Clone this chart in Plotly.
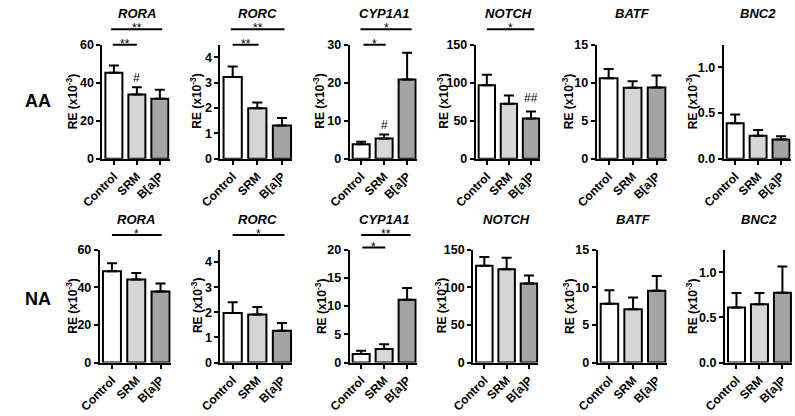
import plotly.graph_objects as go

W, H = 795, 416
FONT = "Arial, Liberation Sans, sans-serif"

groups = ["Control", "SRM", "B[a]P"]
genes = ["RORA", "RORC", "CYP1A1", "NOTCH", "BATF", "BNC2"]
row_names = ["AA", "NA"]

# ---- AA row: means and SEM (RE x10^-3) ----
aa_rora = [45.3, 33.8, 31.5]
aa_rora_sem = [3.8, 3.8, 4.8]
aa_rorc = [3.22, 1.99, 1.31]
aa_rorc_sem = [0.42, 0.23, 0.30]
aa_cyp1a1 = [3.83, 5.3, 20.85]
aa_cyp1a1_sem = [0.65, 1.1, 7.05]
aa_notch = [96.5, 72.4, 53.0]
aa_notch_sem = [14.0, 10.6, 9.0]
aa_batf = [10.6, 9.33, 9.37]
aa_batf_sem = [1.2, 0.87, 1.58]
aa_bnc2 = [0.39, 0.252, 0.21]
aa_bnc2_sem = [0.096, 0.064, 0.036]

# ---- NA row ----
na_rora = [48.5, 44.1, 37.7]
na_rora_sem = [4.2, 3.4, 4.3]
na_rorc = [1.97, 1.91, 1.27]
na_rorc_sem = [0.43, 0.30, 0.31]
na_cyp1a1 = [1.54, 2.4, 11.1]
na_cyp1a1_sem = [0.56, 0.86, 2.1]
na_notch = [128.6, 124.0, 105.0]
na_notch_sem = [11.4, 15.0, 10.7]
na_batf = [7.8, 7.08, 9.53]
na_batf_sem = [1.8, 1.56, 1.97]
na_bnc2 = [0.61, 0.645, 0.772]
na_bnc2_sem = [0.16, 0.125, 0.29]

aa_means = [aa_rora, aa_rorc, aa_cyp1a1, aa_notch, aa_batf, aa_bnc2]
aa_sems = [aa_rora_sem, aa_rorc_sem, aa_cyp1a1_sem, aa_notch_sem, aa_batf_sem, aa_bnc2_sem]
na_means = [na_rora, na_rorc, na_cyp1a1, na_notch, na_batf, na_bnc2]
na_sems = [na_rora_sem, na_rorc_sem, na_cyp1a1_sem, na_notch_sem, na_batf_sem, na_bnc2_sem]

# axis maxima and ticks
aa_ymax = [60, 4.5, 30, 150, 15, 1.25]
na_ymax = [60, 4.5, 20, 150, 15, 1.25]
aa_ticks = [[0, 20, 40, 60], [0, 1, 2, 3, 4], [0, 10, 20, 30], [0, 50, 100, 150], [0, 5, 10, 15], [0, 0.5, 1.0]]
na_ticks = [[0, 20, 40, 60], [0, 1, 2, 3, 4], [0, 5, 10, 15, 20], [0, 50, 100, 150], [0, 5, 10, 15], [0, 0.5, 1.0]]

# significance brackets: (gene index, from category, to category, text, level)
aa_brackets = [(0, -0.05, 1.0, "**", "short"), (0, -0.12, 2.1, "**", "long"),
               (1, 0.0, 1.05, "**", "short"), (1, -0.07, 2.1, "**", "long"),
               (2, 0.1, 1.07, "*", "short"), (2, -0.03, 2.2, "*", "long"),
               (3, 0.0, 2.15, "*", "long")]
na_brackets = [(0, 0.0, 2.05, "*", "long"), (1, 0.0, 2.1, "*", "long"),
               (2, 0.05, 1.05, "*", "short"), (2, 0.0, 2.15, "**", "long")]
# hash marks: (gene index, group index, text)
aa_hash = [(0, 1, "#"), (2, 1, "#"), (3, 2, "##")]
na_hash = []

bar_colors = ["#ffffff", "#d6d6d6", "#a4a4a4"]

# ---- layout geometry (pixels) ----
axis_left = [[82.7, 204, 337, 466.7, 591, 721.7], [80, 204, 337, 464, 592, 723]]
axis_right = [[151.7, 278, 406, 533, 663, 790.5], [153, 278, 406, 531, 663, 792]]
row_top = [39, 251]
row_bottom = [157, 368]
ytitle_off = [[31.7, 25, 31.5, 33.7, 30, 33.2], [29, 24, 29.5, 33, 29.5, 34]]
title_py = [7, 219.5]
rowlabel_py = [97, 302]
bracket_py = [{"short": 39, "long": 23}, {"short": 249, "long": 236}]

def py(p):
    return 1 - p / H

fig = go.Figure()
layout = dict(width=W, height=H, margin=dict(l=0, r=0, t=0, b=0),
              paper_bgcolor="white", plot_bgcolor="white", showlegend=False,
              font=dict(family=FONT, color="black"))
annotations = []
shapes = []

rows_data = [(aa_means, aa_sems, aa_ymax, aa_ticks, aa_brackets, aa_hash),
             (na_means, na_sems, na_ymax, na_ticks, na_brackets, na_hash)]

n = 0
for r, (means, sems, ymaxs, ticks, brackets, hashes) in enumerate(rows_data):
    for g in range(6):
        n += 1
        xa = "x" if n == 1 else f"x{n}"
        ya = "y" if n == 1 else f"y{n}"
        fig.add_trace(go.Bar(
            x=groups, y=means[g], xaxis=xa, yaxis=ya, width=0.74,
            marker=dict(color=bar_colors, line=dict(color="black", width=2)),
            error_y=dict(type="data", array=sems[g], arrayminus=[0, 0, 0], symmetric=False,
                         color="black", thickness=2, width=5),
            hoverinfo="skip"))
        xkey = "xaxis" if n == 1 else f"xaxis{n}"
        ykey = "yaxis" if n == 1 else f"yaxis{n}"
        layout[xkey] = dict(
            domain=[axis_left[r][g] / W, axis_right[r][g] / W], anchor=ya,
            type="category", range=[-0.5, 2.42], showline=True, linecolor="black", linewidth=2,
            ticks="outside", ticklen=4, tickwidth=2, tickcolor="black", tickangle=-45,
            tickfont=dict(family=FONT, size=12, color="black", weight="bold"),
            showgrid=False, zeroline=False, fixedrange=True)
        layout[ykey] = dict(
            domain=[py(row_bottom[r]), py(row_top[r])], anchor=xa,
            range=[0, ymaxs[g]], tickvals=ticks[g],
            tickformat=".1f" if g == 5 else None,
            showline=True, linecolor="black", linewidth=2,
            ticks="outside", ticklen=4, tickwidth=2, tickcolor="black",
            tickfont=dict(family=FONT, size=12.5, color="black", weight="bold"),
            showgrid=False, zeroline=False, fixedrange=True)
        annotations.append(dict(
            text=genes[g], xref=xa, yref="paper", x=1, y=py(title_py[r]),
            xanchor="center", yanchor="middle", showarrow=False, borderpad=0,
            font=dict(family=FONT, size=13, color="black", weight="bold", style="italic")))
        annotations.append(dict(
            text="RE (x10<sup>-3</sup>)", xref="paper", yref="paper",
            x=(axis_left[r][g] - ytitle_off[r][g]) / W,
            y=py((row_top[r] + row_bottom[r]) / 2), textangle=-90,
            xanchor="center", yanchor="middle", showarrow=False,
            font=dict(family=FONT, size=12, color="black", weight="bold")))
    base = r * 6
    for (g, a, b, txt, kind) in brackets:
        k = base + g + 1
        xa = "x" if k == 1 else f"x{k}"
        yy = py(bracket_py[r][kind])
        shapes.append(dict(type="line", xref=xa, yref="paper", x0=a, x1=b, y0=yy, y1=yy,
                           line=dict(color="black", width=2)))
        annotations.append(dict(
            text=txt, xref=xa, yref="paper", x=(a + b) / 2, y=yy, yshift=1,
            xanchor="center", yanchor="middle", showarrow=False, borderpad=0,
            font=dict(family=FONT, size=12, color="black")))
    for (g, gi, txt) in hashes:
        k = base + g + 1
        xa = "x" if k == 1 else f"x{k}"
        ya = "y" if k == 1 else f"y{k}"
        annotations.append(dict(
            text=txt, xref=xa, yref=ya, x=groups[gi], y=means[g][gi] + sems[g][gi],
            yshift=0 if len(txt) == 1 else 5,
            xanchor="center", yanchor="bottom", showarrow=False,
            font=dict(family=FONT, size=12, color="black")))
    annotations.append(dict(
        text=row_names[r], xref="paper", yref="paper", x=16 / W, y=py(rowlabel_py[r]),
        xanchor="center", yanchor="middle", showarrow=False,
        font=dict(family=FONT, size=18, color="black", weight="bold")))

layout["annotations"] = annotations
layout["shapes"] = shapes
fig.update_layout(**layout)
fig.write_html("out.html", config={"displayModeBar": False, "staticPlot": True},
               post_script="document.body.style.margin='0';document.body.style.overflow='hidden';")
